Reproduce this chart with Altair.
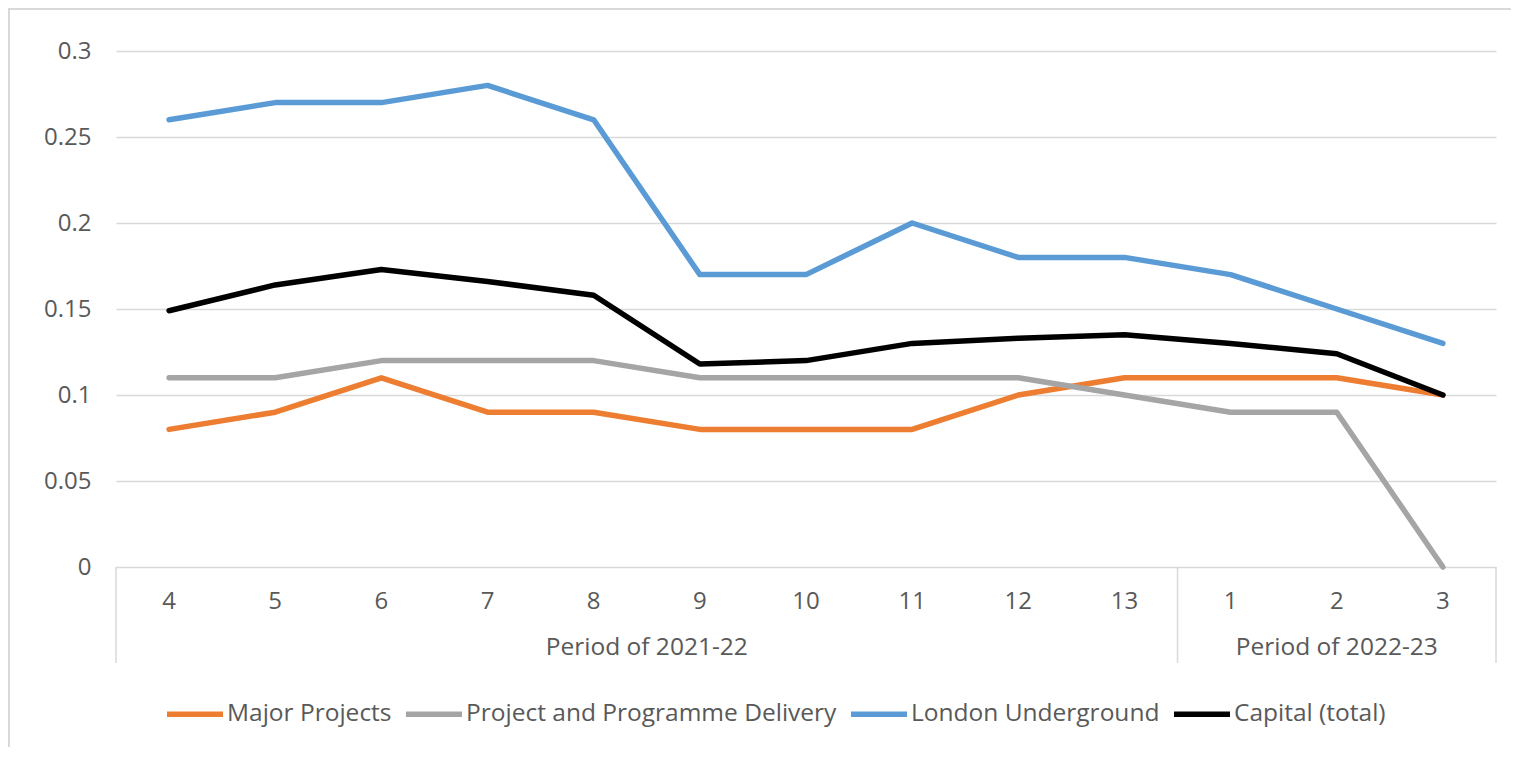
import altair as alt
import pandas as pd

# ---- data ----
periods = ["4", "5", "6", "7", "8", "9", "10", "11", "12", "13", "1", "2", "3"]
years = ["Period of 2021-22"] * 10 + ["Period of 2022-23"] * 3
major_projects = [0.08, 0.09, 0.11, 0.09, 0.09, 0.08, 0.08, 0.08, 0.10, 0.11, 0.11, 0.11, 0.10]
ppd = [0.11, 0.11, 0.12, 0.12, 0.12, 0.11, 0.11, 0.11, 0.11, 0.10, 0.09, 0.09, 0.00]
london_underground = [0.26, 0.27, 0.27, 0.28, 0.26, 0.17, 0.17, 0.20, 0.18, 0.18, 0.17, 0.15, 0.13]
capital_total = [0.149, 0.164, 0.173, 0.166, 0.158, 0.118, 0.120, 0.130, 0.133, 0.135, 0.130, 0.124, 0.100]

series_names = ["Major Projects", "Project and Programme Delivery", "London Underground", "Capital (total)"]
series_values = [major_projects, ppd, london_underground, capital_total]
series_colors = ["#ED7D31", "#A5A5A5", "#5B9BD5", "#000000"]
y_ticks = [0, 0.05, 0.1, 0.15, 0.2, 0.25, 0.3]

FONT = "Open Sans"
TXT = "#595959"
GRID = "#D9D9D9"
FS = 24
W, H = 1380, 516
PAD_R, PAD_B = 15, 180

# ---- tables ----
rows = []
for name, vals in zip(series_names, series_values):
    for i, (p, v) in enumerate(zip(periods, vals)):
        rows.append({"idx": i, "period": p, "series": name, "value": v})
lines_df = pd.DataFrame(rows)

cats_df = pd.DataFrame({"idx": list(range(len(periods))), "period": periods, "year": years})
group_names = list(dict.fromkeys(years))
lo = [float(min(i for i, y in enumerate(years) if y == gname)) for gname in group_names]
hi = [float(max(i for i, y in enumerate(years) if y == gname)) for gname in group_names]
groups_df = pd.DataFrame({"year": group_names, "center": [(a + b) / 2 for a, b in zip(lo, hi)]})
bounds = sorted(set([a - 0.5 for a in lo] + [b + 0.5 for b in hi]))
bounds_df = pd.DataFrame({"b": bounds})

xscale = alt.Scale(domain=[-0.5, len(periods) - 0.5], nice=False, zero=False)

lines = alt.Chart(lines_df).mark_line(strokeWidth=5.5, strokeCap="round", strokeJoin="round").encode(
    x=alt.X("idx:Q", scale=xscale, axis=None),
    y=alt.Y("value:Q", scale=alt.Scale(domain=[0, 0.3], nice=False),
            axis=alt.Axis(values=y_ticks, format="~g", title=None, domain=False, ticks=False,
                          grid=True, gridColor=GRID, gridWidth=1.5, labelPadding=25,
                          labelFontSize=FS, labelColor=TXT, labelFont=FONT)),
    color=alt.Color("series:N", scale=alt.Scale(domain=series_names, range=series_colors),
                    legend=alt.Legend(orient="none", legendX=48, legendY=632, direction="horizontal",
                                      title=None, symbolType="stroke", symbolSize=3136,
                                      symbolStrokeWidth=5.5, labelFontSize=24.5, labelColor=TXT,
                                      labelFont=FONT, labelOffset=1, columnPadding=3,
                                      labelLimit=600)),
)

cat_labels = alt.Chart(cats_df).mark_text(fontSize=FS, color=TXT, font=FONT, baseline="middle").encode(
    x=alt.X("idx:Q", scale=xscale), y=alt.value(H + 35), text="period:N")

grp_labels = alt.Chart(groups_df).mark_text(fontSize=24.5, color=TXT, font=FONT, baseline="middle").encode(
    x=alt.X("center:Q", scale=xscale), y=alt.value(H + 81), text="year:N")

seps = alt.Chart(bounds_df).mark_rule(color=GRID, strokeWidth=1.5).encode(
    x=alt.X("b:Q", scale=xscale), y=alt.value(H), y2=alt.value(H + 96))

one = pd.DataFrame({"k": [0]})
frame_top = alt.Chart(one).mark_rect(fill=GRID).encode(
    x=alt.value(-108), x2=alt.value(W + PAD_R), y=alt.value(-43), y2=alt.value(-41))
frame_left = alt.Chart(one).mark_rect(fill=GRID).encode(
    x=alt.value(-108), x2=alt.value(-106), y=alt.value(-43), y2=alt.value(H + PAD_B))

chart = alt.layer(lines, seps, cat_labels, grp_labels, frame_top, frame_left).properties(
    width=W, height=H,
    padding={"left": 108, "top": 43, "right": PAD_R, "bottom": PAD_B},
    autosize=alt.AutoSizeParams(type="none"),
    background="white",
).configure_view(stroke=None)

chart.save("out.html", embed_options={"renderer": "svg", "actions": False})
